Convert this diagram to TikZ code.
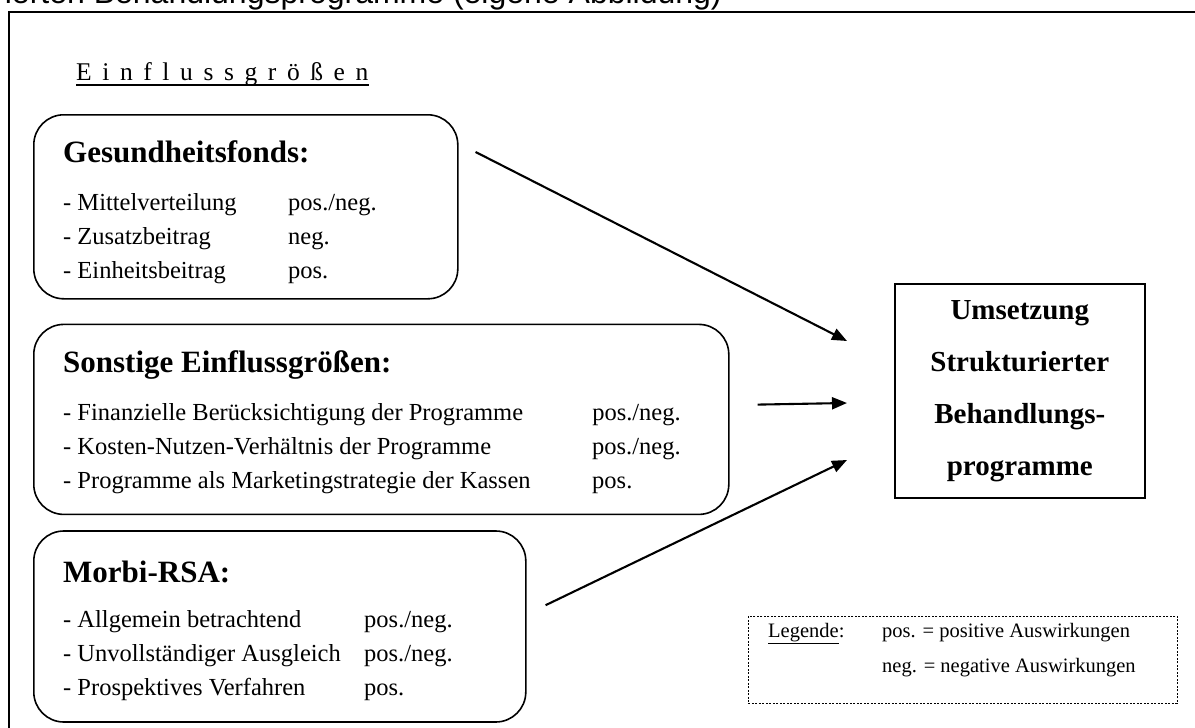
\documentclass[tikz,border=0pt]{standalone}
\usepackage{fontspec}
\setmainfont{Liberation Serif}
\newfontfamily\capfont{Liberation Sans}
\usetikzlibrary{positioning}
\usetikzlibrary{arrows.meta}

\newcommand{\lsp}{\kern 10.6pt}
\newcommand{\rowfont}{\fontsize{24.5}{34}\selectfont}
\newcommand{\headfont}{\bfseries\fontsize{31}{34}\selectfont}
\newcommand{\legfont}{\fontsize{20.5}{35}\selectfont}

\begin{document}
\begin{tikzpicture}[
        x=1pt, y=-1pt,
        infobox/.style={draw, rectangle, rounded corners=30pt, line width=1.6pt,
                        inner sep=0pt, anchor=north west},
        infotext/.style={anchor=base west, inner sep=0pt, align=left, font=\rowfont},
        target/.style={draw, rectangle, line width=1.6pt, inner sep=0pt, align=center,
                       minimum width=250pt, minimum height=214pt, anchor=north west,
                       font=\bfseries\fontsize{29}{52}\selectfont},
        legendbox/.style={draw, dash pattern=on 2pt off 1.5pt, line width=0.8pt,
                          inner sep=0pt, anchor=north west},
        arrow/.style={-{Triangle[length=15pt, width=12pt]}, line width=2.1pt}
    ]
        \useasboundingbox (0,0) rectangle (1195,728);
        \clip (0,0) rectangle (1195,728);

        % caption and frame (cut off)
        \node[anchor=base east, inner sep=0pt, font=\capfont\fontsize{32}{32}\selectfont]
            (caption) at (722,3) {Strukturierten Behandlungsprogramme (eigene Abbildung)};
        \draw[line width=2pt] (9,12) rectangle (1215,745);

        \node[anchor=base west, inner sep=0pt, font=\fontsize{25.5}{30}\selectfont] (einfluss) at (76,80)
            {E\lsp i\lsp n\lsp f\lsp l\lsp u\lsp s\lsp s\lsp g\lsp r\lsp ö\lsp ß\lsp e\lsp n};
        \draw[line width=1.2pt] ([yshift=-5pt]einfluss.base west) -- ([yshift=-5pt]einfluss.base east);

        % Einflussgroessen
        \node[infobox, minimum width=424pt, minimum height=184pt] (fonds) at (33,114) {};
        \node[infobox, minimum width=695pt, minimum height=190pt,
              below=24pt of fonds.south west, anchor=north west] (sonstige) {};
        \node[infobox, minimum width=492pt, minimum height=191pt,
              below=15pt of sonstige.south west, anchor=north west] (morbi) {};

        \node[infotext] (fonds-text) at ([shift={(30,48)}]fonds.north west) {%
            \begin{tabular}[t]{@{}p{225pt}@{}l@{}}
                \multicolumn{2}{@{}l@{}}{\headfont Gesundheitsfonds:}\\[14pt]
                - Mittelverteilung & pos./neg.\\
                - Zusatzbeitrag & neg.\\
                - Einheitsbeitrag & pos.
            \end{tabular}};
        \node[infotext] (sonstige-text) at ([shift={(30,49)}]sonstige.north west) {%
            \begin{tabular}[t]{@{}p{529pt}@{}l@{}}
                \multicolumn{2}{@{}l@{}}{\headfont Sonstige Einflussgrößen:}\\[14pt]
                - Finanzielle Berücksichtigung der Programme & pos./neg.\\
                - Kosten-Nutzen-Verhältnis der Programme & pos./neg.\\
                - Programme als Marketingstrategie der Kassen & pos.
            \end{tabular}};
        \node[infotext] (morbi-text) at ([shift={(30,52)}]morbi.north west) {%
            \begin{tabular}[t]{@{}p{301pt}@{}l@{}}
                \multicolumn{2}{@{}l@{}}{\headfont Morbi-RSA:}\\[11pt]
                - Allgemein betrachtend & pos./neg.\\
                - Unvollständiger Ausgleich & pos./neg.\\
                - Prospektives Verfahren & pos.
            \end{tabular}};

        % Ziel
        \node[target] (umsetzung) at (894,283)
            {Umsetzung\\Strukturierter\\Behandlungs-\\programme};

        \draw[arrow] ([shift={(17,38)}]fonds.north east) -- ([shift={(-47,58)}]umsetzung.north west);
        \draw[arrow] ([shift={(28,81)}]sonstige.north east) -- ([shift={(-47,120)}]umsetzung.north west);
        \draw[arrow] ([shift={(19,75)}]morbi.north east) -- ([shift={(-47,177)}]umsetzung.north west);

        % Legende
        \node[legendbox, minimum width=429pt, minimum height=87pt] (legende) at (748,616) {};
        \node[infotext, font=\legfont] (legende-text) at ([shift={(20,21)}]legende.north west) {%
            \begin{tabular}[t]{@{}p{114pt}@{}l@{}}
                \underline{Legende}: & pos. = positive Auswirkungen\\
                 & neg. = negative Auswirkungen
            \end{tabular}};
    \end{tikzpicture}
\end{document}
